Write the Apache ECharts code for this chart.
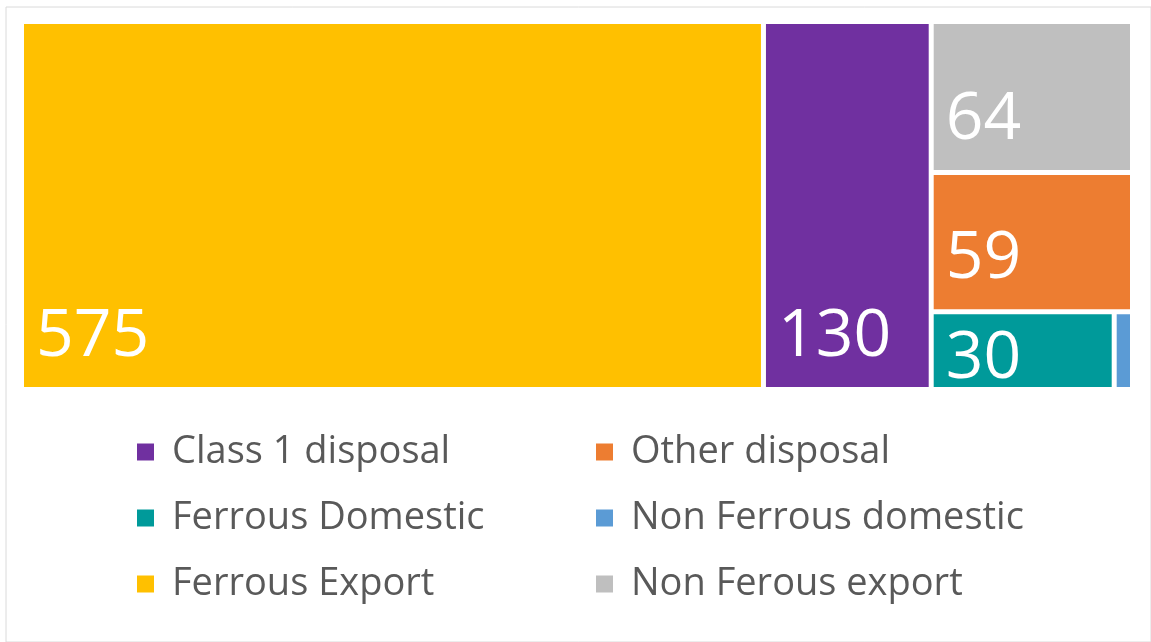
<!DOCTYPE html>
<html><head><meta charset="utf-8">
<script src="https://cdn.jsdelivr.net/npm/echarts@6/dist/echarts.min.js"></script>
<style>html,body{margin:0;padding:0;background:#fff}#c{width:1151px;height:642px}</style>
</head><body><div id="c"></div>
<script>
// ---- data ----
const categories = ['Ferrous Export', 'Class 1 disposal', 'Non Ferous export', 'Other disposal', 'Ferrous Domestic', 'Non Ferrous domestic'];
const values = [575, 130, 64, 59, 30, 3];
const legendCol1 = ['Class 1 disposal', 'Ferrous Domestic', 'Ferrous Export'];
const legendCol2 = ['Other disposal', 'Non Ferrous domestic', 'Non Ferous export'];

// ---- styles ----
const colorMap = {
  'Ferrous Export': '#FFC000',
  'Class 1 disposal': '#7030A0',
  'Non Ferous export': '#BFBFBF',
  'Other disposal': '#ED7D31',
  'Ferrous Domestic': '#009A9A',
  'Non Ferrous domestic': '#5B9BD5'
};
const FONT = 'Open Sans';

const treeData = categories.map((n, i) => {
  const item = { name: n, value: values[i], itemStyle: { color: colorMap[n] } };
  if (n === 'Ferrous Domestic') item.label = { offset: [0, 12], lineHeight: 56, distance: 7 };
  return item;
});
const pieData = categories.map((n, i) => ({ name: n, value: values[i], itemStyle: { color: colorMap[n] } }));

const legendBase = {
  orient: 'vertical', top: 426, itemWidth: 17, itemHeight: 17, itemGap: 24, icon: 'rect',
  selectedMode: false,
  textStyle: { fontSize: 38, fontFamily: FONT, color: '#595959', lineHeight: 42, padding: [0, 0, 0, 13] }
};

const chart = echarts.init(document.getElementById('c'), null, { renderer: 'canvas' });
chart.setOption({
  backgroundColor: '#fff',
  animation: false,
  graphic: [{
    type: 'rect', left: 3.5, top: 4.5, silent: true,
    shape: { width: 1145, height: 635 },
    style: { fill: null, stroke: '#DADADA', lineWidth: 1 }
  }],
  legend: [
    Object.assign({}, legendBase, { left: 132, data: legendCol1 }),
    Object.assign({}, legendBase, { left: 591, data: legendCol2 })
  ],
  series: [{
    type: 'treemap',
    left: 24, top: 24, width: 1106, height: 363,
    roam: false, nodeClick: false, silent: true,
    breadcrumb: { show: false },
    squareRatio: 0.5,
    sort: 'desc',
    levels: [{ itemStyle: { borderWidth: 0, gapWidth: 5, borderColor: '#fff' } }],
    itemStyle: { borderWidth: 0 },
    label: {
      show: true, position: 'insideBottomLeft', distance: 7, offset: [0, -5],
      fontSize: 66, fontFamily: FONT, color: '#fff',
      overflow: 'none', lineOverflow: 'none',
      formatter: p => (p.value >= 10 ? String(p.value) : '')
    },
    data: treeData
  }, {
    type: 'pie', radius: [0, 0], center: [-200, -200], silent: true,
    label: { show: false }, labelLine: { show: false },
    data: pieData
  }]
});
</script></body></html>
